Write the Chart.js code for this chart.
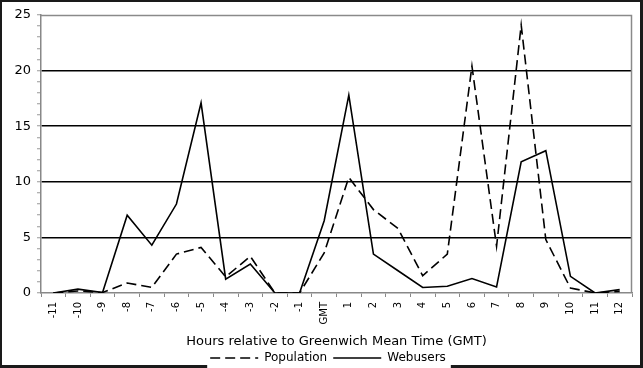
<!DOCTYPE html>
<html><head><meta charset="utf-8">
<script src="https://cdn.jsdelivr.net/npm/chart.js@4"></script>
<style>html,body{margin:0;padding:0;background:#fff;overflow:hidden}</style>
</head><body>
<canvas id="c" width="643" height="368"></canvas>
<script>
const categories = ['-11','-10','-9','-8','-7','-6','-5','-4','-3','-2','-1','GMT','1','2','3','4','5','6','7','8','9','10','11','12'];
const population = [0, 0.18, 0.05, 0.9, 0.5, 3.5, 4.1, 1.45, 3.3, 0, 0, 3.6, 10.4, 7.5, 5.8, 1.55, 3.5, 20.4, 4.2, 24.1, 4.8, 0.45, 0, 0.15];
const webusers   = [0, 0.35, 0.05, 7.0, 4.3, 8.0, 17.1, 1.25, 2.6, 0, 0, 6.5, 17.8, 3.5, 2.0, 0.5, 0.6, 1.3, 0.55, 11.8, 12.8, 1.5, 0, 0.3];
const yMajorStep = 5;
const xTitle = 'Hours relative to Greenwich Mean Time (GMT)';
const F = '"DejaVu Sans", Verdana, sans-serif';
const popDash = [10, 5];

const framePlugin = {
  id: 'frame',
  afterLayout(chart) {
    const lg = chart.legend;
    if (lg) { lg.left += 12; lg.right += 12; }
  },
  beforeDraw(chart) {
    const ctx = chart.ctx, W = chart.width, H = chart.height;
    ctx.save();
    ctx.fillStyle = '#fff';
    ctx.fillRect(0, 0, W, H);
    ctx.fillStyle = '#1a1a1a';
    ctx.fillRect(0, 0, W - 2, 2);
    ctx.fillRect(0, 0, 2, H - 2);
    ctx.fillRect(W - 3, 0, 3, H);
    ctx.fillRect(0, H - 3, W, 3);
    const lg = chart.legend;
    if (lg && lg.lineWidths) {
      const pad = lg.options.labels.padding;
      const lw = lg.lineWidths[0];
      const sx = (lg.left + pad + lg.right - lw) / 2;
      ctx.fillStyle = '#fff';
      ctx.fillRect(sx - 3, H - 4, lw + 2, 4);
    }
    ctx.restore();
  },
  beforeDatasetsDraw(chart) {
    const a = chart.chartArea, ctx = chart.ctx;
    ctx.save();
    ctx.strokeStyle = '#8a8a8a';
    ctx.lineWidth = 1.5;
    ctx.beginPath();
    ctx.moveTo(a.left, a.top + 0.5);
    ctx.lineTo(a.right - 0.5, a.top + 0.5);
    ctx.lineTo(a.right - 0.5, a.bottom);
    ctx.stroke();
    ctx.restore();
  }
};

new Chart(document.getElementById('c'), {
  type: 'line',
  data: {
    labels: categories,
    datasets: [
      { label: 'Population', data: population, borderColor: '#000', backgroundColor: '#000', borderWidth: 1.6, borderDash: popDash, pointRadius: 0, tension: 0, fill: false, pointStyle: 'line' },
      { label: 'Webusers', data: webusers, borderColor: '#000', backgroundColor: '#000', borderWidth: 1.6, pointRadius: 0, tension: 0, fill: false, pointStyle: 'line' }
    ]
  },
  options: {
    responsive: false,
    animation: false,
    devicePixelRatio: 1,
    layout: { padding: { left: 0, right: 11, top: 15, bottom: -6 } },
    plugins: {
      legend: {
        position: 'bottom',
        labels: {
          usePointStyle: true, pointStyleWidth: 48, boxHeight: 12,
          font: { family: F, size: 12 }, color: '#000', padding: 6,
          generateLabels: chart => {
            const items = Chart.defaults.plugins.legend.labels.generateLabels(chart);
            items.forEach(it => {
              const ds = chart.data.datasets[it.datasetIndex];
              it.lineDash = ds.borderDash || [];
              it.lineWidth = 1.6;
              it.strokeStyle = '#000';
            });
            return items;
          }
        }
      },
      tooltip: { enabled: false }
    },
    scales: {
      x: {
        offset: true,
        grid: { offset: true, drawOnChartArea: false, tickLength: 4, tickColor: '#888', tickWidth: 1 },
        border: { color: '#888', width: 1.5 },
        ticks: { minRotation: 90, maxRotation: 90, autoSkip: false, font: { family: F, size: 10 }, color: '#000', padding: 5 },
        title: { display: true, text: xTitle, font: { family: F, size: 13 }, color: '#000', padding: { top: 0, bottom: -3 } },
        afterFit: s => { s.height = 53; }
      },
      y: {
        min: 0, max: 25,
        ticks: { stepSize: 1, autoSkip: false, callback: v => (v % yMajorStep === 0 ? v : ''), font: { family: F, size: 13 }, color: '#000', padding: 6 },
        grid: {
          color: c => (c.tick && c.tick.value % yMajorStep === 0 && c.tick.value > 0 && c.tick.value < 25) ? '#000' : 'rgba(0,0,0,0)',
          lineWidth: 1.5, tickColor: '#999', tickLength: 4, tickWidth: 1
        },
        border: { color: '#888', width: 1.5 },
        afterFit: s => { s.width = 41; }
      }
    }
  },
  plugins: [framePlugin]
});
</script>
</body></html>
